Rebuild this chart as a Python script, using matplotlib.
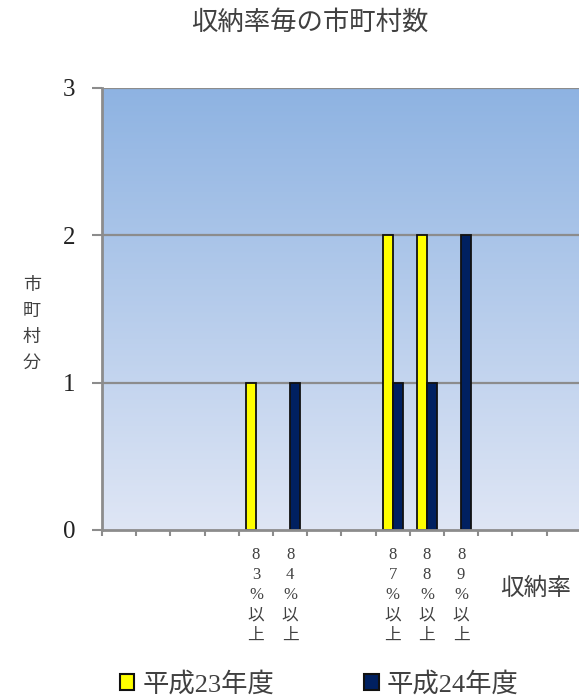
import numpy as np
import matplotlib
matplotlib.use("Agg")
import matplotlib.pyplot as plt
from matplotlib.patches import Patch
from matplotlib.colors import LinearSegmentedColormap

# Collection-rate bands and number of municipalities per band
categories = ["", "", "", "", "83%以上", "84%以上", "", "",
              "87%以上", "88%以上", "89%以上", "", "", ""]
h23 = [0, 0, 0, 0, 1, 0, 0, 0, 2, 2, 0, 0, 0, 0]
h24 = [0, 0, 0, 0, 0, 1, 0, 0, 1, 1, 2, 0, 0, 0]
series_names = ["平成23年度", "平成24年度"]
y_ticks = [0, 1, 2, 3]

CJK = "Noto Sans CJK JP"
MIXED = ["Liberation Serif", CJK]
TEXT = "#404040"
GRID = "#8c8c8c"
YELLOW = "#ffff00"
NAVY = "#002060"

fig = plt.figure(figsize=(5.79, 7.0), dpi=100)
ax = fig.add_axes([102 / 579, 1 - 530 / 700, 478.8 / 579, 442 / 700])

n = len(categories)
x = np.arange(n)
ax.set_xlim(-0.5, n - 0.5)
ax.set_ylim(0, 3)

# gradient plot-area background
cmap = LinearSegmentedColormap.from_list("bg", ["#dfe6f5", "#8eb3e2"])
grad = np.linspace(0, 1, 256).reshape(-1, 1)
ax.imshow(grad, cmap=cmap, origin="lower", aspect="auto",
          extent=[-0.5, n - 0.5, 0, 3], zorder=0)

# horizontal gridlines
for v in y_ticks[1:]:
    ax.axhline(v, color=GRID, lw=1.6, zorder=1)

w = 0.29
a23 = np.array(h23)
a24 = np.array(h24)
m23 = a23 > 0
m24 = a24 > 0
ax.bar(x[m23] - w / 2, a23[m23], width=w, color=YELLOW, edgecolor="#111111",
       linewidth=1.3, zorder=3)
ax.bar(x[m24] + w / 2, a24[m24], width=w, color=NAVY, edgecolor="#111111",
       linewidth=1.3, zorder=3)

for s in ["top", "right"]:
    ax.spines[s].set_visible(False)
for s in ["left", "bottom"]:
    ax.spines[s].set_color(GRID)
    ax.spines[s].set_linewidth(2)
    ax.spines[s].set_zorder(4)

ax.set_yticks(y_ticks)
ax.set_yticklabels([str(v) for v in y_ticks], fontsize=18,
                   family="Liberation Serif", color="#222222")
ax.tick_params(axis="y", direction="out", length=7.2, width=1.5,
               color=GRID, pad=12)

# tick marks between categories, labels centred on categories
ax.set_xticks(np.arange(-0.5, n, 1.0))
ax.set_xticklabels([])
ax.tick_params(axis="x", which="major", direction="out", length=4,
               width=1.5, color=GRID)
ax.set_xticks(x, minor=True)
ax.set_xticklabels(["\n".join(c) for c in categories], minor=True,
                   fontsize=12, family=MIXED, color=TEXT, linespacing=1.36,
                   va="top")
ax.tick_params(axis="x", which="minor", length=0, pad=12)

fig.text(310 / 579, 1 - 22 / 700, "収納率毎の市町村数", fontsize=19,
         family=CJK, color=TEXT, ha="center", va="center")
fig.text(32 / 579, 1 - 324 / 700, "市\n町\n村\n分", fontsize=13,
         family=CJK, color=TEXT, ha="center", va="center", linespacing=1.55)
fig.text(536 / 579, 1 - 588 / 700, "収納率", fontsize=17,
         family=CJK, color=TEXT, ha="center", va="center")

handles = [Patch(facecolor=YELLOW, edgecolor="#111111", linewidth=1.5),
           Patch(facecolor=NAVY, edgecolor="#111111", linewidth=1.5)]
fig.legend(handles, series_names, loc="center",
           bbox_to_anchor=(319 / 579, 1 - 684 / 700), ncol=2, frameon=False,
           prop={"family": MIXED, "size": 19}, labelcolor=TEXT,
           handlelength=0.56, handleheight=0.56, handletextpad=0.3,
           columnspacing=3.4, borderpad=0, borderaxespad=0)

fig.savefig("out.png", dpi=100)
